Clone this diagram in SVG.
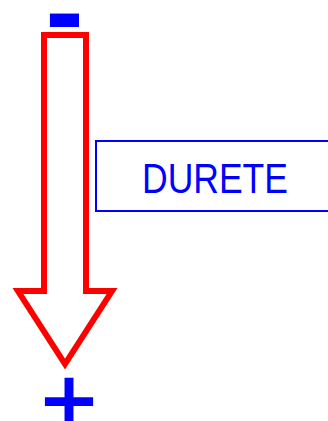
<svg xmlns="http://www.w3.org/2000/svg" width="328" height="421" viewBox="0 0 328 421">
<style>
.sign{fill:#0000ff;font-family:"DejaVu Sans",sans-serif;font-weight:bold;text-anchor:middle}
.lbl{fill:#0000ff;font-family:"Liberation Sans",sans-serif;font-size:42px;text-anchor:middle}
</style>
<rect width="328" height="421" fill="#fff"/>
<g id="arrow">
<polygon points="44,35 86,35 86,291 112,291 65,364 18,291 44,291" fill="#fff" stroke="#ff0000" stroke-width="6" stroke-miterlimit="10"/>
</g>
<g id="minus"><text class="sign" x="64.5" y="48" font-size="95">-</text></g>
<g id="plus"><text class="sign" x="69" y="426" font-size="77">+</text></g>
<g id="durete">
<rect x="96" y="141" width="240" height="70" fill="none" stroke="#0000ff" stroke-width="2"/>
<text class="lbl" x="215" y="193" textLength="146" lengthAdjust="spacingAndGlyphs">DURETE</text>
</g>
<g id="connectors"/>
</svg>
